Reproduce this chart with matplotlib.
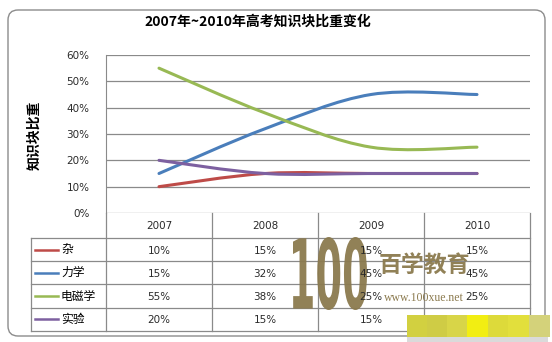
import matplotlib.pyplot as plt
from matplotlib.path import Path
from matplotlib.patches import PathPatch, FancyBboxPatch, Rectangle
from matplotlib.textpath import TextPath
from matplotlib.font_manager import FontProperties
from matplotlib.transforms import Affine2D

plt.rcParams['font.family'] = ['Noto Sans CJK SC', 'DejaVu Sans']

# ------------------------------------
# Data
# ------------------------------------
years = ["2007", "2008", "2009", "2010"]
series_names = ["杂", "力学", "电磁学", "实验"]
za = [10, 15, 15, 15]
lixue = [15, 32, 45, 45]
dianci = [55, 38, 25, 25]
shiyan = [20, 15, 15, 15]
series_values = [za, lixue, dianci, shiyan]
colors = ["#BE4B48", "#4A7EBB", "#98B954", "#7D60A0"]
y_ticks = [0, 10, 20, 30, 40, 50, 60]

W, H = 552, 342
GRID = "#8A8A8A"
TXT = "#2B2B2B"


def smooth_path(xs, ys):
    # Catmull-Rom style bezier segments, like a spreadsheet "smoothed line"
    pts = list(zip(xs, ys))
    ext = [pts[0]] + pts + [pts[-1]]
    verts = [pts[0]]
    codes = [Path.MOVETO]
    for i in range(len(pts) - 1):
        p0, p1, p2, p3 = ext[i], ext[i + 1], ext[i + 2], ext[i + 3]
        c1 = (p1[0] + (p2[0] - p0[0]) / 6, p1[1] + (p2[1] - p0[1]) / 6)
        c2 = (p2[0] - (p3[0] - p1[0]) / 6, p2[1] - (p3[1] - p1[1]) / 6)
        verts += [c1, c2, p2]
        codes += [Path.CURVE4] * 3
    return Path(verts, codes)


fig = plt.figure(figsize=(W / 100, H / 100), dpi=100)

# canvas axes in pixel units for frame, table and title
cv = fig.add_axes([0, 0, 1, 1])
cv.set_xlim(0, W)
cv.set_ylim(H, 0)
cv.axis("off")

# ------------------------------------
# Outer frame
# ------------------------------------
cv.add_patch(FancyBboxPatch((8, 10), 537, 326,
                            boxstyle="round,pad=0,rounding_size=10",
                            fc="white", ec="#8C8C8C", lw=1, zorder=0))

# ------------------------------------
# Title and y label
# ------------------------------------
cv.text(258, 22, "2007年~2010年高考知识块比重变化", ha="center", va="center",
        fontsize=10, fontweight="bold", color="black")
cv.text(34, 135, "知识块比重", rotation=90, ha="center", va="center",
        fontsize=10, fontweight="bold", color="black")

# ------------------------------------
# Line chart
# ------------------------------------
left, right, top, bottom = 106, 530, 55, 213
ax = fig.add_axes([left / W, 1 - bottom / H, (right - left) / W, (bottom - top) / H])
ax.set_facecolor("none")
ax.set_xlim(0, len(years))
ax.set_ylim(0, 60)
ax.set_yticks(y_ticks)
ax.set_yticklabels([f"{t}%" for t in y_ticks], fontsize=7.5, color=TXT,
                   family="DejaVu Sans")
ax.set_xticks([])
ax.tick_params(axis="y", length=0, pad=12)
for t in y_ticks:
    ax.axhline(t, color=GRID, lw=0.9, zorder=1)
for side in ["top", "right", "bottom"]:
    ax.spines[side].set_visible(False)
ax.spines["left"].set_color(GRID)

xs = [i + 0.5 for i in range(len(years))]
for vals, c in zip(series_values, colors):
    ax.add_patch(PathPatch(smooth_path(xs, vals), fill=False, ec=c, lw=2.2,
                           capstyle="round", zorder=3))

# ------------------------------------
# Data table
# ------------------------------------
col_w = (right - left) / len(years)
row_top = 238
row_h = 23.2
n_rows = len(series_names)
table_bottom = row_top + n_rows * row_h

# vertical lines
cv.plot([left, left], [bottom, table_bottom], color=GRID, lw=0.9)
for i in range(1, len(years) + 1):
    x = left + i * col_w
    cv.plot([x, x], [bottom, table_bottom], color=GRID, lw=0.9)
cv.plot([31, 31], [row_top, table_bottom], color=GRID, lw=0.9)
# horizontal lines
for r in range(n_rows + 1):
    y = row_top + r * row_h
    cv.plot([31, right], [y, y], color=GRID, lw=0.9)

for i, yr in enumerate(years):
    cv.text(left + (i + 0.5) * col_w, 226, yr, ha="center", va="center",
            fontsize=7.5, color=TXT, family="DejaVu Sans", zorder=4)

for r, (name, vals, c) in enumerate(zip(series_names, series_values, colors)):
    yc = row_top + (r + 0.5) * row_h
    cv.plot([35, 58], [yc, yc], color=c, lw=1.8)
    cv.text(61, yc, name, ha="left", va="center", fontsize=8.5, color="black")
    for i, v in enumerate(vals):
        cv.text(left + (i + 0.5) * col_w, yc + 1, f"{v}%", ha="center", va="center",
                fontsize=7.5, color=TXT, family="DejaVu Sans", zorder=4)

# ------------------------------------
# Watermark
# ------------------------------------
brown = "#8B7A4E"
tp = TextPath((0, 0), "100", size=1, prop=FontProperties(family="DejaVu Sans", weight="bold"))
ext = tp.get_extents()
sx = (367 - 293) / ext.width
sy = (310 - 237) / ext.height
logo = Affine2D().translate(-ext.x0, -ext.y0).scale(sx, -sy).translate(293, 310)
cv.add_patch(PathPatch(logo.transform_path(tp), fc=brown, ec="none", alpha=0.95, zorder=2))
cv.text(424, 266, "百学教育", ha="center", va="center", fontsize=16.5,
        fontweight="bold", color=brown, alpha=0.95, zorder=2)
cv.text(424, 298, "www.100xue.net", ha="center", va="center", fontsize=8.5,
        family="Liberation Serif", color=brown, zorder=2)

# pixelated yellow patch at bottom right
patch_cols = ["#D2D040", "#CFCC45", "#D8D548", "#F2EE12", "#DDDA3A", "#E2DF3C", "#D4D27A"]
patch_x = [407, 427, 447, 467, 488, 508, 529]
for x0, pc in zip(patch_x, patch_cols):
    cv.add_patch(Rectangle((x0, 315), 20.5, 22, fc=pc, ec="none", zorder=5))
cv.add_patch(Rectangle((407, 337), 141, 5, fc="#DADADA", ec="none", zorder=5))

fig.savefig("out.png", dpi=100)
